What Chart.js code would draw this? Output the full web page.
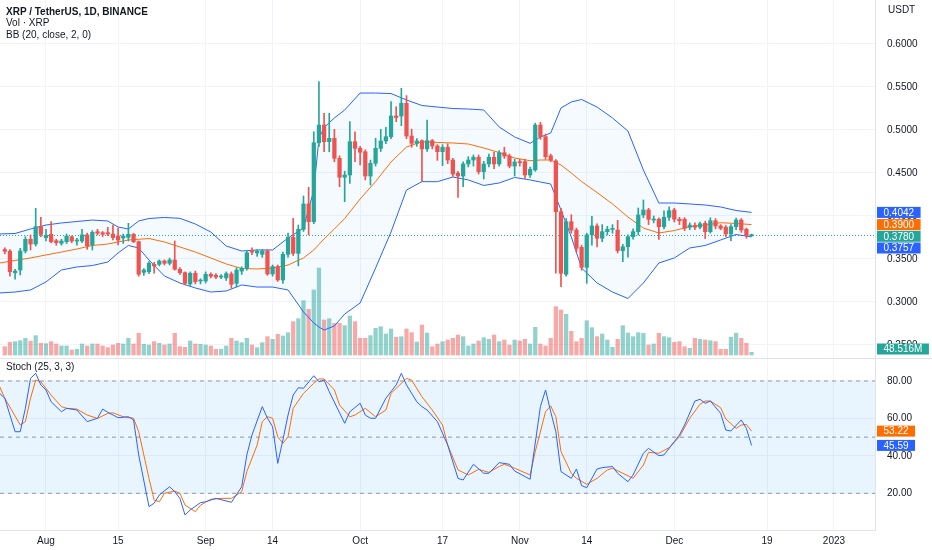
<!DOCTYPE html>
<html lang="en">
<head>
<meta charset="UTF-8">
<title>XRP / TetherUS, 1D, BINANCE</title>
<script src="https://cdn.jsdelivr.net/npm/chart.js"></script>
<style>
    body { margin: 0; background: #fff; font-family: "Liberation Sans", Arial, sans-serif; color: #131722; }
    #wrap { position: relative; width: 932px; height: 550px; overflow: hidden; }
    #main { position: absolute; left: 0; top: 0; }
    #stoch { position: absolute; left: 0; top: 359px; }
    .sep { position: absolute; left: 0; top: 358px; width: 932px; height: 1px; background: #e0e3eb; }
    .legend { position: absolute; left: 6px; top: 5.5px; font-size: 10px; line-height: 11.5px; }
    .legend .title { font-weight: bold; }
    .pane-title { position: absolute; left: 6px; top: 361px; font-size: 10px; }
    .unit { position: absolute; left: 888px; top: 4px; font-size: 10px; }
</style>
</head>
<body>
<div id="wrap">
    <canvas id="main" width="932" height="358"></canvas>
    <div class="sep"></div>
    <canvas id="stoch" width="932" height="191"></canvas>
    <div class="legend">
        <div class="title">XRP / TetherUS, 1D, BINANCE</div>
        <div>Vol · XRP</div>
        <div>BB (20, close, 2, 0)</div>
    </div>
    <div class="pane-title">Stoch (25, 3, 3)</div>
    <div class="unit">USDT</div>
</div>

<script>
    // days counted from 1 Aug 2022 (= 0); first candle is 24 Jul
    const firstDay = -8;
    const opens = [
        .3610, .3590, .3340, .3372, .3593, .3729, .3674, .3876, .3748, .3787,
        .3713, .3682, .3701, .3759, .3709, .3709, .3780, .3663, .3818, .3806,
        .3806, .3790, .3767, .3744, .3752, .3787, .3701, .3345, .3352, .3438,
        .3438, .3477, .3450, .3488, .3380, .3341, .3210, .3334, .3244, .3244,
        .3322, .3310, .3290, .3280, .3326, .3217, .3360, .3392, .3600, .3570,
        .3554, .3593, .3326, .3411, .3256, .3555, .3752, .3566, .3845, .4140,
        .3934, .4852, .5058, .4864, .4903, .4671, .4450, .4477, .4864, .4787,
        .4747, .4465, .4613, .4787, .4872, .4922, .5163, .5163, .5310, .4930,
        .4845, .4876, .4780, .4876, .4814, .4748, .4799, .4651, .4497, .4465,
        .4605, .4651, .4683, .4515, .4605, .4683, .4605, .4736, .4697, .4581,
        .4628, .4632, .4477, .4535, .5058, .4922, .4700, .4640, .4050, .3322,
        .3934, .3837, .3636, .3403, .3780, .3884, .3741, .3818, .3845, .3837,
        .3597, .3643, .3759, .3818, .4012, .4070, .3953, .3962, .3876, .3985,
        .4070, .3962, .3962, .3869, .3890, .3870, .3915, .3818, .3945, .3884,
        .3869, .3791, .3876, .3953, .3845, .3772
    ];
    const highs = [
        .3630, .3610, .3380, .3624, .3759, .3780, .4089, .3985, .3845, .3934,
        .3730, .3730, .3790, .3770, .3740, .3845, .3800, .3830, .3845, .3820,
        .3868, .3895, .3860, .3790, .3915, .3800, .3710, .3390, .3470, .3460,
        .3490, .3490, .3510, .3710, .3400, .3350, .3350, .3360, .3270, .3350,
        .3340, .3330, .3320, .3350, .3350, .3400, .3410, .3600, .3630, .3610,
        .3610, .3610, .3430, .3430, .3580, .3800, .3973, .3895, .4233, .4334,
        .4980, .5562, .5194, .5194, .5008, .4700, .4520, .5097, .4980, .4810,
        .4770, .4650, .4903, .5008, .5030, .5329, .5270, .5485, .5400, .5010,
        .4900, .4885, .5116, .4890, .4830, .4830, .4840, .4670, .4520, .4630,
        .4690, .4710, .4710, .4635, .4720, .4740, .4760, .4800, .4720, .4660,
        .4660, .4660, .4570, .5080, .5090, .4953, .4720, .4655, .4090, .3970,
        .4015, .3860, .3660, .3800, .3996, .3910, .3900, .3880, .3900, .3950,
        .3670, .3780, .3850, .4093, .4186, .4090, .4000, .3980, .4060, .4108,
        .4090, .3985, .3980, .3920, .3920, .3930, .3940, .3980, .3970, .3900,
        .3890, .3900, .3975, .3970, .3860, .3790
    ];
    const lows = [
        .3560, .3300, .3264, .3314, .3570, .3605, .3651, .3759, .3709, .3686,
        .3660, .3660, .3680, .3690, .3660, .3690, .3613, .3605, .3780, .3760,
        .3770, .3721, .3663, .3680, .3710, .3690, .3300, .3310, .3330, .3334,
        .3420, .3430, .3430, .3370, .3320, .3198, .3190, .3210, .3210, .3220,
        .3280, .3270, .3270, .3250, .3160, .3174, .3320, .3370, .3550, .3530,
        .3520, .3310, .3300, .3240, .3217, .3520, .3540, .3420, .3820, .3780,
        .3910, .4810, .4747, .4747, .4630, .4340, .4166, .4380, .4632, .4593,
        .4419, .4360, .4580, .4750, .4840, .4900, .5097, .5050, .4900, .4800,
        .4810, .4399, .4750, .4780, .4647, .4585, .4609, .4460, .4217, .4340,
        .4570, .4580, .4488, .4430, .4570, .4550, .4580, .4670, .4560, .4465,
        .4580, .4438, .4450, .4520, .4890, .4660, .4630, .3334, .3178, .3300,
        .3800, .3580, .3370, .3217, .3660, .3640, .3700, .3780, .3800, .3570,
        .3469, .3520, .3730, .3780, .3980, .3900, .3920, .3729, .3850, .3950,
        .3930, .3900, .3830, .3840, .3840, .3850, .3737, .3800, .3850, .3840,
        .3760, .3713, .3840, .3810, .3741, .3760
    ];
    const closes = [
        .3590, .3352, .3360, .3593, .3729, .3674, .3876, .3787, .3775, .3701,
        .3690, .3709, .3767, .3709, .3720, .3780, .3655, .3810, .3799, .3787,
        .3791, .3750, .3721, .3767, .3787, .3701, .3322, .3372, .3450, .3419,
        .3477, .3450, .3488, .3380, .3341, .3217, .3334, .3236, .3255, .3322,
        .3300, .3290, .3300, .3330, .3206, .3372, .3392, .3573, .3580, .3590,
        .3593, .3326, .3411, .3256, .3555, .3752, .3566, .3845, .4140, .3934,
        .4852, .5058, .4864, .4903, .4671, .4450, .4477, .4864, .4787, .4741,
        .4465, .4613, .4787, .4872, .4922, .5163, .5145, .5310, .4930, .4845,
        .4872, .4780, .4876, .4814, .4748, .4799, .4651, .4488, .4465, .4605,
        .4651, .4683, .4515, .4605, .4683, .4605, .4736, .4697, .4581, .4628,
        .4620, .4477, .4543, .5058, .4922, .4690, .4650, .4050, .3334, .3934,
        .3837, .3624, .3403, .3780, .3884, .3741, .3818, .3845, .3852, .3597,
        .3643, .3759, .3818, .4012, .4070, .3962, .3965, .3876, .3985, .4062,
        .3962, .3945, .3857, .3895, .3870, .3910, .3818, .3945, .3884, .3857,
        .3791, .3876, .3953, .3837, .3772, .3780
    ];
    // volume, millions of XRP
    const volumes = [
        150, 228, 240, 258, 300, 252, 348, 210, 204, 240,
        198, 162, 162, 90, 102, 198, 162, 198, 198, 162,
        132, 180, 210, 198, 300, 198, 390, 192, 180, 240,
        210, 180, 198, 390, 150, 138, 252, 198, 192, 180,
        162, 102, 102, 162, 300, 252, 222, 300, 180, 132,
        222, 330, 282, 372, 342, 402, 600, 654, 978, 822,
        1170, 1566, 630, 654, 570, 570, 528, 702, 600, 300,
        300, 348, 480, 510, 378, 468, 318, 330, 468, 402,
        234, 540, 396, 150, 198, 240, 270, 300, 360, 330,
        162, 198, 252, 312, 282, 360, 240, 270, 180, 270,
        252, 282, 198, 498, 198, 162, 300, 870, 810, 732,
        426, 240, 300, 618, 492, 330, 378, 270, 138, 282,
        528, 396, 330, 402, 390, 180, 198, 390, 330, 312,
        228, 240, 150, 120, 300, 282, 270, 258, 240, 102,
        102, 318, 390, 300, 210, 48.516
    ];

    // Bollinger bands
    const bbDays = [-9, -6, -3, 0, 3, 6, 9, 12, 14, 16, 18, 20, 23, 26, 29, 32, 35, 38, 41, 44, 47, 50, 52, 53,
        54, 56, 58, 61, 64, 67, 70, 73, 76, 79, 82, 85, 88, 91, 94, 96, 98, 100, 102, 104, 107, 110, 113,
        116, 119, 122, 125, 128, 131, 134, 137];
    const bbUpper = [.3791, .3797, .3849, .3895, .3919, .3936, .3953, .3942, .3872, .3849, .3942, .3971, .3983,
        .3973, .3907, .3814, .3651, .3593, .3605, .3605, .3744, .3860, .4300, .4900, .5030, .5140, .5233, .5430,
        .5430, .5424, .5349, .5285, .5267, .5250, .5244, .5233, .5035, .4919, .4845, .4919, .4965, .5256, .5326,
        .5355, .5267, .5140, .4988, .4535, .4151, .4151, .4140, .4128, .4105, .4064, .4042];
    const bbBasis = [.3453, .3483, .3512, .3547, .3581, .3616, .3657, .3674, .3698, .3721, .3729, .3738, .3698,
        .3640, .3581, .3512, .3442, .3390, .3384, .3395, .3430, .3512, .3605, .3670, .3733, .3849, .3971, .4198,
        .4401, .4628, .4802, .4864, .4855, .4849, .4837, .4791, .4738, .4674, .4643, .4651, .4651, .4593, .4500,
        .4401, .4273, .4140, .3988, .3860, .3802, .3831, .3876, .3895, .3922, .3913, .3900];
    const bbLower = [.3105, .3116, .3140, .3233, .3372, .3407, .3424, .3465, .3570, .3657, .3628, .3488, .3302,
        .3221, .3163, .3116, .3128, .3198, .3174, .3174, .3140, .2884, .2756, .2709, .2674, .2721, .2860, .2988,
        .3395, .3814, .4302, .4399, .4399, .4453, .4419, .4355, .4384, .4448, .4419, .4395, .4372, .4070, .3756,
        .3395, .3221, .3116, .3041, .3221, .3453, .3512, .3628, .3657, .3721, .3785, .3757];

    // Stoch (25, 3, 3)
    const kDays = [-9, -8, -6, -5, -4, -3, -2, -1, 0, 1, 3, 4, 6, 8, 10, 11, 12, 14, 16, 17, 18, 20, 21, 22, 24, 25,
        26, 27, 28, 30, 31, 33, 36, 38, 39, 40, 42, 43, 44, 45, 46, 47, 48, 49, 50, 52, 53, 54, 55, 58, 59, 61, 62,
        63, 64, 66, 68, 69, 70, 72, 73, 74, 76, 78, 80, 81, 83, 85, 86, 88, 90, 91, 94, 96, 97, 98, 99, 100, 102,
        103, 104, 105, 107, 108, 110, 111, 113, 114, 116, 117, 119, 120, 122, 123, 124, 126, 127, 128, 129, 131,
        132, 133, 135, 136, 137];
    const kValues = [73.4, 70.8, 52.9, 52.9, 65.4, 81.4, 84.1, 77.9, 75.2, 68.9, 63.6, 65.4, 64.5, 58.3, 60.1, 65,
        63.3, 60.4, 60.9, 59.2, 40.5, 12.9, 14.7, 19.1, 23.5, 20.9, 17.3, 8.4, 11.1, 15, 15.5, 17.3, 15.2, 23.5,
        40.5, 51.2, 66.3, 60.1, 55.6, 36, 48.5, 61.8, 72.5, 76.4, 76.1, 82.8, 79.6, 80.5, 74.3, 57.4, 63.6, 68.1,
        61.8, 60.1, 60.1, 70.8, 77.9, 84.1, 77.9, 68.9, 66.3, 64.5, 58.3, 45.8, 28, 27.1, 35.5, 30.7, 30.7, 36.4,
        35.5, 31.9, 27.5, 66.3, 75.2, 63.6, 52.9, 31.6, 28, 33, 24.1, 23, 33, 33.7, 34.3, 30.7, 26.2, 29.8, 41.4,
        44, 40.1, 40.5, 47.6, 51.2, 56.5, 69.3, 70.2, 68.1, 69.3, 62.7, 53.8, 53.3, 59.2, 54.7, 45.59];
    const dDays = [-9, -8, -5, -4, -3, -2, -1, 1, 3, 4, 6, 8, 10, 12, 13, 15, 17, 18, 20, 21, 22, 23, 25, 26, 27,
        29, 30, 32, 34, 36, 38, 39, 41, 42, 43, 44, 45, 46, 47, 48, 50, 52, 53, 54, 56, 57, 59, 60, 62, 64, 66, 67,
        70, 71, 73, 75, 77, 78, 80, 82, 84, 86, 88, 89, 91, 94, 95, 97, 98, 99, 100, 102, 103, 105, 107, 109, 110,
        112, 114, 116, 117, 119, 121, 123, 125, 127, 128, 129, 131, 132, 134, 135, 136, 137];
    const dValues = [77, 70.8, 56.5, 58.3, 70.8, 80.5, 79.6, 72.5, 66.3, 65.4, 65, 61.8, 60, 62.7, 63, 60.9, 60.1,
        52.9, 28, 16.4, 15.5, 20, 21.2, 20, 13.7, 10.2, 13.7, 16.8, 17.3, 17.3, 20.9, 31.6, 45.8, 58.3, 60.9, 60.1,
        50.2, 46.7, 50.2, 65.4, 73.4, 78.8, 81.1, 81.1, 75.2, 67.2, 60.9, 61.8, 65.4, 60.9, 64.5, 73.4, 81.4, 80.5,
        71.6, 64.5, 56.5, 45.8, 32.5, 29.8, 32.8, 31.2, 34.3, 35.5, 33.4, 29.8, 42.3, 63.6, 66.7, 60.9, 42.3, 30.7,
        28, 24.8, 28, 32.5, 33.4, 30.7, 28, 35.1, 41.9, 41.4, 44.4, 50.2, 60.1, 67.6, 69.3, 69.3, 65.7, 59.7, 54.7,
        56.5, 56.8, 53.22];
    const stochLevels = [80, 50, 20];

    // time axis labels
    const tickDays = [0, 14, 31, 44, 61, 77, 92, 105, 122, 140, 153];
    const tickLabels = ['Aug', '15', 'Sep', '14', 'Oct', '17', 'Nov', '14', 'Dec', '19', '2023'];
    const priceTicks = [0.25, 0.30, 0.35, 0.40, 0.45, 0.50, 0.55, 0.60];
    const stochTicks = [20, 40, 60, 80];

    const xMin = -8.93, xMax = 160.97;
    const UP = '#26a69a', DOWN = '#ef5350';
    const UP_VOL = 'rgba(38,166,154,0.5)', DOWN_VOL = 'rgba(239,83,80,0.5)';
    const BLUE = '#2962ff', ORANGE = '#ff6d00';
    const gridColor = '#f0f3fa';

    Chart.defaults.font.family = "'Liberation Sans', Arial, sans-serif";
    Chart.defaults.font.size = 10;
    Chart.defaults.color = '#131722';
    Chart.defaults.animation = false;
    Chart.defaults.plugins.legend.display = false;
    Chart.defaults.plugins.tooltip.enabled = false;

    const isUp = opens.map((o, i) => closes[i] >= o);
    const candleColors = isUp.map(u => u ? UP : DOWN);
    const dayOf = i => firstDay + i;

    function timeAxis(showLabels) {
        return {
            type: 'linear', min: xMin, max: xMax, offset: false,
            grid: { color: gridColor, drawTicks: false, offset: false },
            border: { display: showLabels, color: '#e0e3eb' },
            afterBuildTicks: a => { a.ticks = tickDays.map(v => ({ value: v })); },
            ticks: { display: showLabels, padding: 5, maxRotation: 0, autoSkip: false,
                     callback: (v, i) => tickLabels[i] },
            afterFit: a => {
                a.height = showLabels ? 20 : 0;
                a.paddingLeft = 0; a.paddingRight = 0;
            }
        };
    }

    function rightAxis(min, max, ticks, digits) {
        return {
            position: 'right', min: min, max: max,
            grid: { color: gridColor, drawTicks: false },
            border: { display: true, color: '#e0e3eb' },
            afterBuildTicks: a => { a.ticks = ticks.map(v => ({ value: v })); },
            ticks: { padding: 12, callback: v => v.toFixed(digits) },
            afterFit: a => { a.width = 57; a.paddingTop = 0; a.paddingBottom = 0; }
        };
    }

    // coloured value tags on the right scale, pushed apart when they overlap
    function drawTags(chart, tags, bottomLimit) {
        const ctx = chart.ctx, area = chart.chartArea, h = 11;
        tags.sort((a, b) => a.y - b.y);
        for (let i = 1; i < tags.length; i++) {
            if (tags[i].y - tags[i - 1].y < h + 0.7) tags[i].y = tags[i - 1].y + h + 0.7;
        }
        ctx.save();
        ctx.font = "10px 'Liberation Sans', Arial, sans-serif";
        ctx.textAlign = 'center';
        ctx.textBaseline = 'middle';
        tags.forEach(t => {
            const y = Math.min(t.y, bottomLimit);
            const w = ctx.measureText(t.text).width + 13;
            ctx.fillStyle = t.color;
            ctx.fillRect(area.right + 2, y - h / 2, w, h);
            ctx.fillStyle = '#fff';
            ctx.fillText(t.text, area.right + 2 + w / 2, y + 0.5);
        });
        ctx.restore();
    }

    const lastClose = closes[closes.length - 1];
    const last = arr => arr[arr.length - 1];

    const mainTags = {
        id: 'mainTags',
        beforeDatasetsDraw(chart) {
            const ctx = chart.ctx, area = chart.chartArea;
            const y = chart.scales.y.getPixelForValue(lastClose);
            ctx.save();
            ctx.strokeStyle = UP;
            ctx.lineWidth = 1;
            ctx.setLineDash([1, 2]);
            ctx.beginPath();
            ctx.moveTo(area.left, Math.round(y) + 0.5);
            ctx.lineTo(area.right, Math.round(y) + 0.5);
            ctx.stroke();
            ctx.restore();
        },
        afterDraw(chart) {
            const ys = chart.scales.y, yv = chart.scales.yv, area = chart.chartArea;
            drawTags(chart, [
                { y: ys.getPixelForValue(last(bbUpper)), text: last(bbUpper).toFixed(4), color: BLUE },
                { y: ys.getPixelForValue(last(bbBasis)), text: last(bbBasis).toFixed(4), color: ORANGE },
                { y: ys.getPixelForValue(lastClose), text: lastClose.toFixed(4), color: isUp[isUp.length - 1] ? UP : DOWN },
                { y: ys.getPixelForValue(last(bbLower)), text: last(bbLower).toFixed(4), color: BLUE }
            ], area.bottom);
            drawTags(chart, [
                { y: yv.getPixelForValue(last(volumes)), text: last(volumes).toFixed(3) + 'M', color: UP }
            ], area.bottom - 9);
        }
    };

    const stochTags = {
        id: 'stochTags',
        afterDraw(chart) {
            const ys = chart.scales.y;
            drawTags(chart, [
                { y: ys.getPixelForValue(last(dValues)), text: last(dValues).toFixed(2), color: ORANGE },
                { y: ys.getPixelForValue(last(kValues)), text: last(kValues).toFixed(2), color: BLUE }
            ], chart.chartArea.bottom);
        }
    };

    const bandLine = days => values => days.map((d, i) => ({ x: d, y: values[i] }));
    const bbPts = bandLine(bbDays);

    new Chart(document.getElementById('main'), {
        type: 'bar',
        data: {
            datasets: [
                {
                    label: 'bodies', order: 0, grouped: false,
                    data: opens.map((o, i) => ({ x: dayOf(i), y: [Math.min(o, closes[i]), Math.max(o, closes[i])] })),
                    backgroundColor: candleColors, barThickness: 3.6, minBarLength: 1
                },
                {
                    label: 'wicks', order: 1, grouped: false,
                    data: highs.map((h, i) => ({ x: dayOf(i), y: [lows[i], h] })),
                    backgroundColor: candleColors, barThickness: 1
                },
                {
                    type: 'line', label: 'upper', order: 3, data: bbPts(bbUpper),
                    borderColor: BLUE, borderWidth: 1, pointRadius: 0,
                    fill: { target: '+2', above: 'rgba(33,150,243,0.05)', below: 'rgba(33,150,243,0.05)' }
                },
                {
                    type: 'line', label: 'basis', order: 2, data: bbPts(bbBasis),
                    borderColor: ORANGE, borderWidth: 1, pointRadius: 0, fill: false
                },
                {
                    type: 'line', label: 'lower', order: 3, data: bbPts(bbLower),
                    borderColor: BLUE, borderWidth: 1, pointRadius: 0, fill: false
                },
                {
                    label: 'volume', order: 10, grouped: false, yAxisID: 'yv',
                    data: volumes.map((v, i) => ({ x: dayOf(i), y: v })),
                    backgroundColor: isUp.map(u => u ? UP_VOL : DOWN_VOL), barThickness: 3.6
                }
            ]
        },
        options: {
            responsive: false,
            layout: { padding: 0 },
            scales: {
                x: timeAxis(false),
                y: rightAxis(0.23488, 0.65116, priceTicks, 4),
                yv: { display: false, min: -54, max: 6390 }
            }
        },
        plugins: [mainTags]
    });

    const levelData = v => [{ x: xMin, y: v }, { x: xMax, y: v }];

    new Chart(document.getElementById('stoch'), {
        type: 'line',
        data: {
            datasets: [
                {
                    label: '%K', order: 0, data: kDays.map((d, i) => ({ x: d, y: kValues[i] })),
                    borderColor: BLUE, borderWidth: 1, pointRadius: 0
                },
                {
                    label: '%D', order: 1, data: dDays.map((d, i) => ({ x: d, y: dValues[i] })),
                    borderColor: ORANGE, borderWidth: 1, pointRadius: 0
                },
                {
                    label: 'upper band', order: 5, data: levelData(stochLevels[0]),
                    borderColor: '#9598a1', borderWidth: 1, borderDash: [4, 4], pointRadius: 0,
                    fill: { target: '+2', above: 'rgba(33,150,243,0.1)', below: 'rgba(33,150,243,0.1)' }
                },
                {
                    label: 'middle band', order: 5, data: levelData(stochLevels[1]),
                    borderColor: '#9598a1', borderWidth: 1, borderDash: [4, 4], pointRadius: 0
                },
                {
                    label: 'lower band', order: 5, data: levelData(stochLevels[2]),
                    borderColor: '#9598a1', borderWidth: 1, borderDash: [4, 4], pointRadius: 0
                }
            ]
        },
        options: {
            responsive: false,
            layout: { padding: 0 },
            scales: {
                x: timeAxis(true),
                y: rightAxis(0.4, 91.75, stochTicks, 2)
            }
        },
        plugins: [stochTags]
    });
</script>
</body>
</html>
